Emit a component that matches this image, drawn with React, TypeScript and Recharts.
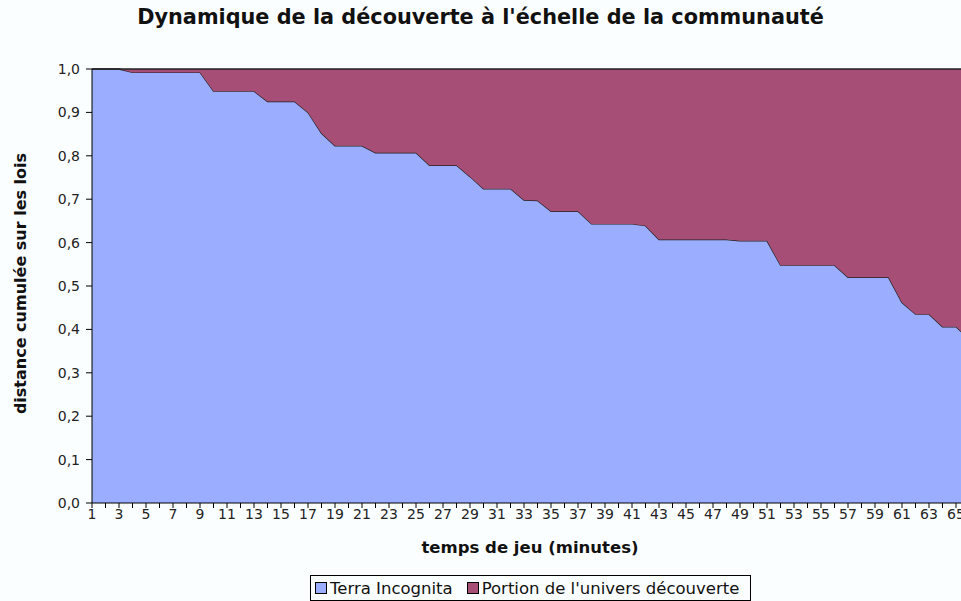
import { AreaChart, Area, XAxis, YAxis } from "recharts";

// minutes de jeu (la dernière catégorie est coupée par le bord de l'image)
const minutes = [
  1, 2, 3, 4, 5, 6, 7, 8, 9, 10, 11, 12, 13, 14, 15, 16, 17, 18, 19, 20, 21, 22,
  23, 24, 25, 26, 27, 28, 29, 30, 31, 32, 33, 34, 35, 36, 37, 38, 39, 40, 41, 42,
  43, 44, 45, 46, 47, 48, 49, 50, 51, 52, 53, 54, 55, 56, 57, 58, 59, 60, 61, 62,
  63, 64, 65, 66,
];

const terraIncognita = [
  1.0, 1.0, 1.0, 0.992, 0.992, 0.992, 0.992, 0.992, 0.992, 0.949, 0.949, 0.949,
  0.949, 0.925, 0.925, 0.925, 0.9, 0.852, 0.823, 0.823, 0.823, 0.807, 0.807, 0.807,
  0.807, 0.778, 0.778, 0.778, 0.752, 0.724, 0.724, 0.724, 0.698, 0.697, 0.672, 0.672,
  0.672, 0.643, 0.643, 0.643, 0.643, 0.639, 0.607, 0.607, 0.607, 0.607, 0.607, 0.607,
  0.604, 0.604, 0.604, 0.548, 0.548, 0.548, 0.548, 0.548, 0.52, 0.52, 0.52, 0.52,
  0.462, 0.435, 0.435, 0.406, 0.406, 0.378,
];

const universDecouvert = [
  0.0, 0.0, 0.0, 0.008, 0.008, 0.008, 0.008, 0.008, 0.008, 0.051, 0.051, 0.051,
  0.051, 0.075, 0.075, 0.075, 0.1, 0.148, 0.177, 0.177, 0.177, 0.193, 0.193, 0.193,
  0.193, 0.222, 0.222, 0.222, 0.248, 0.276, 0.276, 0.276, 0.302, 0.303, 0.328, 0.328,
  0.328, 0.357, 0.357, 0.357, 0.357, 0.361, 0.393, 0.393, 0.393, 0.393, 0.393, 0.393,
  0.396, 0.396, 0.396, 0.452, 0.452, 0.452, 0.452, 0.452, 0.48, 0.48, 0.48, 0.48,
  0.538, 0.565, 0.565, 0.594, 0.594, 0.622,
];

const yTicks = [0, 0.1, 0.2, 0.3, 0.4, 0.5, 0.6, 0.7, 0.8, 0.9, 1.0];

const BLUE = "#9aadff";
const MAROON = "#a64e76";
const FONT = "'DejaVu Sans', Verdana, sans-serif";

const data = minutes.map((m, i) => ({
  minute: m,
  terra: terraIncognita[i],
  decouverte: universDecouvert[i],
}));

// only every other minute gets a label, but every minute keeps its tick mark
const XTick = (props: any) => {
  const { x, y, payload } = props;
  if (payload.value % 2 === 0) return <g />;
  return (
    <text x={x} y={y} dy="0.71em" textAnchor="middle" fontSize={14} fill="#222" fontFamily={FONT}>
      {payload.value}
    </text>
  );
};

export default function App() {
  return (
    <div
      style={{
        position: "fixed", left: 0, top: 0, width: 961, height: 601,
        overflow: "hidden", background: "#fbfeff", fontFamily: FONT,
      }}
    >
      <div style={{ position: "absolute", left: 0, top: 5, width: 961, textAlign: "center", fontSize: 20.8, fontWeight: "bold", color: "#111" }}>
        Dynamique de la découverte à l'échelle de la communauté
      </div>

      <AreaChart
        width={990}
        height={601}
        data={data}
        margin={{ top: 69, right: 20.5, left: 0, bottom: 68 }}
        style={{ position: "absolute", left: 0, top: 0 }}
      >
        <XAxis
          dataKey="minute"
          interval={0}
          height={30}
          tick={<XTick />}
          tickSize={5}
          tickMargin={1}
          tickLine={{ stroke: "#000" }}
          axisLine={{ stroke: "#000" }}
        />
        <YAxis
          type="number"
          domain={[0, 1]}
          ticks={yTicks}
          width={92}
          tickSize={6}
          tickMargin={6}
          tickFormatter={(v: number) => v.toFixed(1).replace(".", ",")}
          tick={{ fontSize: 14, fill: "#222", fontFamily: FONT }}
          tickLine={{ stroke: "#000" }}
          axisLine={{ stroke: "#000" }}
        />
        <Area
          type="linear"
          dataKey="terra"
          stackId="1"
          fill={BLUE}
          fillOpacity={1}
          stroke="#222"
          strokeWidth={1.3}
          isAnimationActive={false}
        />
        <Area
          type="linear"
          dataKey="decouverte"
          stackId="1"
          fill={MAROON}
          fillOpacity={1}
          stroke="#222"
          strokeWidth={1.3}
          isAnimationActive={false}
        />
      </AreaChart>

      <div
        style={{
          position: "absolute", left: 20 - 160, top: 284 - 10, width: 320, textAlign: "center",
          transform: "rotate(-90deg)", fontSize: 16, fontWeight: "bold", color: "#111",
        }}
      >
        distance cumulée sur les lois
      </div>

      <div style={{ position: "absolute", left: 330, top: 538, width: 400, textAlign: "center", fontSize: 16.5, fontWeight: "bold", color: "#111" }}>
        temps de jeu (minutes)
      </div>

      <div
        style={{
          position: "absolute", left: 310, top: 575, width: 441, height: 26, boxSizing: "border-box",
          border: "1px solid #000", display: "flex", alignItems: "center", gap: 14,
          paddingLeft: 4, fontSize: 16.5, color: "#111", whiteSpace: "nowrap",
        }}
      >
        <span style={{ display: "flex", alignItems: "center", gap: 3 }}>
          <span style={{ width: 10, height: 10, background: BLUE, border: "1px solid #000" }} />
          Terra Incognita
        </span>
        <span style={{ display: "flex", alignItems: "center", gap: 3 }}>
          <span style={{ width: 10, height: 10, background: MAROON, border: "1px solid #000" }} />
          Portion de l'univers découverte
        </span>
      </div>
    </div>
  );
}
